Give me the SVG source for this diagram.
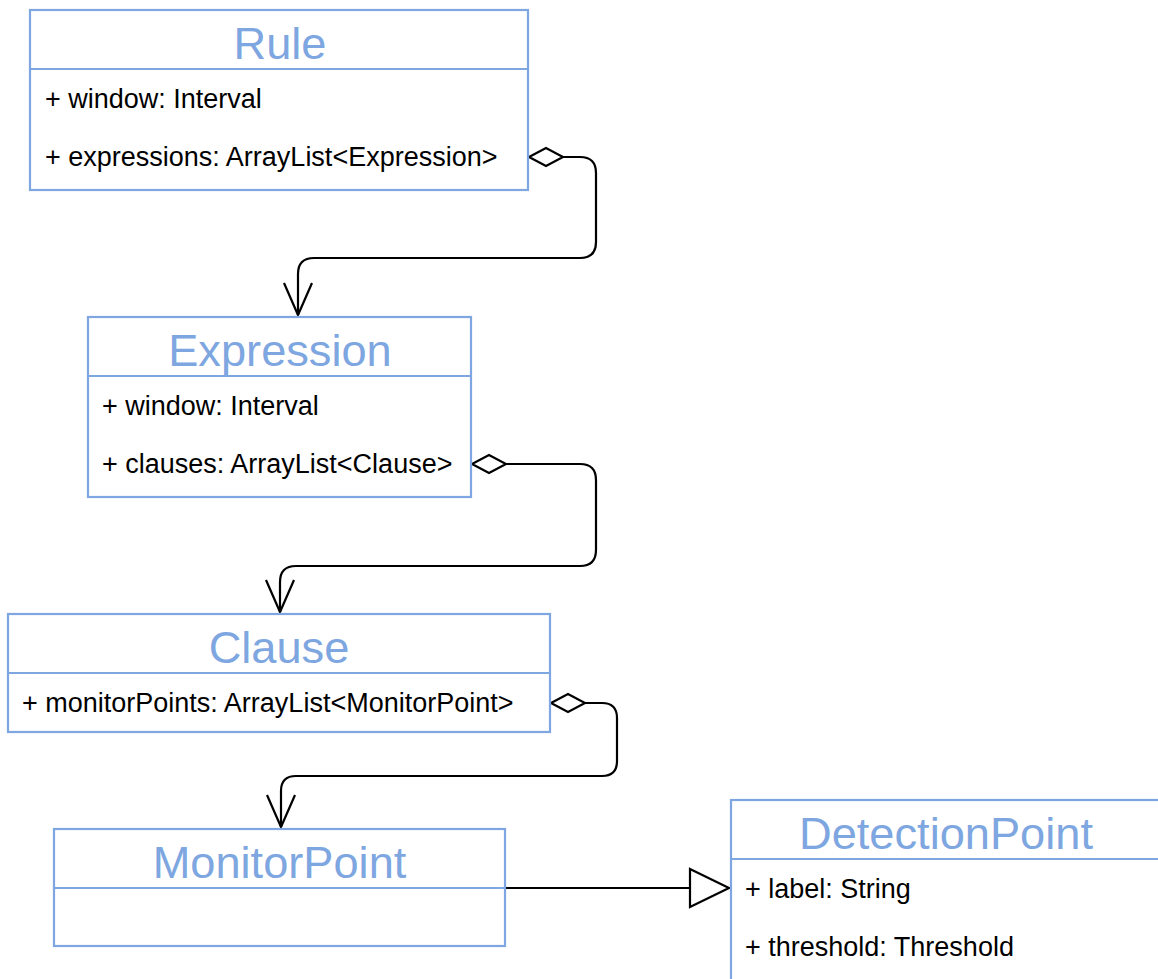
<svg xmlns="http://www.w3.org/2000/svg" width="1158" height="979" viewBox="0 0 1158 979">
  <style>
    .box { fill: #ffffff; stroke: #7ea6e0; stroke-width: 2.2; }
    .div { stroke: #7ea6e0; stroke-width: 2.2; }
    .title { font-family: "Liberation Sans", Arial, sans-serif; font-size: 45.2px; fill: #7ea6e0; text-anchor: middle; }
    .attr { font-family: "Liberation Sans", Arial, sans-serif; font-size: 27px; fill: #000000; }
    .edge { fill: none; stroke: #000000; stroke-width: 2.2; stroke-linejoin: round; }
    .hollow { fill: #ffffff; stroke: #000000; stroke-width: 2.2; stroke-linejoin: miter; }
  </style>
  <rect width="1158" height="979" fill="#ffffff"/>

  <g id="connectors">
    <!-- Rule.expressions aggregates Expression -->
    <path class="edge" d="M563,157 L580,157 Q596,157 596,173 L596,242 Q596,258 580,258 L314,258 Q298,258 298,274 L298,315"/>
    <polyline class="edge" points="284,283 298,315 312,283"/>
    <polygon class="hollow" points="529,157 546,148 563,157 546,166"/>

    <!-- Expression.clauses aggregates Clause -->
    <path class="edge" d="M506,464 L580,464 Q596,464 596,480 L596,550 Q596,566 580,566 L296,566 Q280,566 280,582 L280,612"/>
    <polyline class="edge" points="266,580 280,612 294,580"/>
    <polygon class="hollow" points="472,464 489,455 506,464 489,473"/>

    <!-- Clause.monitorPoints aggregates MonitorPoint -->
    <path class="edge" d="M585,703 L602,703 Q617,703 617,718 L617,761 Q617,776 602,776 L296,776 Q281,776 281,791 L281,827"/>
    <polyline class="edge" points="267,795 281,827 295,795"/>
    <polygon class="hollow" points="551,703 568,694 585,703 568,712"/>

    <!-- MonitorPoint generalizes DetectionPoint -->
    <line class="edge" x1="505" y1="888" x2="690" y2="888"/>
    <polygon class="hollow" points="690,869 729,888 690,907"/>
  </g>

  <g id="rule">
    <rect class="box" x="30" y="10" width="498" height="180"/>
    <line class="div" x1="30" y1="69" x2="528" y2="69"/>
    <text class="title" x="280" y="59">Rule</text>
    <text class="attr" x="45" y="108">+ window: Interval</text>
    <text class="attr" x="45" y="166">+ expressions: ArrayList&lt;Expression&gt;</text>
  </g>

  <g id="expression">
    <rect class="box" x="88" y="317" width="383" height="180"/>
    <line class="div" x1="88" y1="376" x2="471" y2="376"/>
    <text class="title" x="280" y="366">Expression</text>
    <text class="attr" x="102" y="415">+ window: Interval</text>
    <text class="attr" x="102" y="473">+ clauses: ArrayList&lt;Clause&gt;</text>
  </g>

  <g id="clause">
    <rect class="box" x="8" y="614" width="542" height="118"/>
    <line class="div" x1="8" y1="673" x2="550" y2="673"/>
    <text class="title" x="279" y="663">Clause</text>
    <text class="attr" x="22" y="712">+ monitorPoints: ArrayList&lt;MonitorPoint&gt;</text>
  </g>

  <g id="monitor-point">
    <rect class="box" x="54" y="829" width="451" height="117"/>
    <line class="div" x1="54" y1="888" x2="505" y2="888"/>
    <text class="title" x="279.5" y="878">MonitorPoint</text>
  </g>

  <g id="detection-point">
    <rect class="box" x="731" y="800" width="430" height="200"/>
    <line class="div" x1="731" y1="859" x2="1161" y2="859"/>
    <text class="title" x="946" y="849">DetectionPoint</text>
    <text class="attr" x="745" y="898">+ label: String</text>
    <text class="attr" x="745" y="956">+ threshold: Threshold</text>
  </g>
</svg>
